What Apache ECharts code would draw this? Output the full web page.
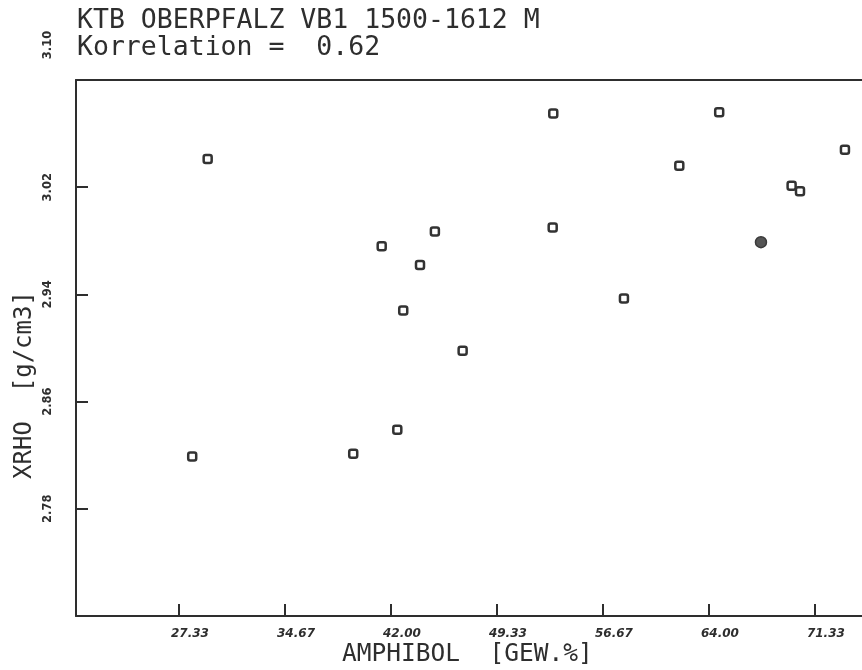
<!DOCTYPE html>
<html>
<head>
<meta charset="utf-8">
<title>KTB Oberpfalz VB1 – XRHO vs. Amphibol</title>
<script src="https://cdn.jsdelivr.net/npm/echarts@6/dist/echarts.min.js"></script>
<style>
  html, body { margin: 0; padding: 0; background: #ffffff; }
  #chart { width: 862px; height: 670px; }
</style>
</head>
<body>
<div id="chart"></div>
<script>
// Amphibol content (GEW.%) and bulk density XRHO (g/cm3) per sample
const amphibol = [29.32, 45.04, 41.36, 44.01, 42.85, 46.96, 42.44, 39.39, 28.25,
                  53.23, 64.71, 73.41, 61.95, 69.72, 70.30, 53.19, 58.12];
const xrho     = [3.041, 2.987, 2.976, 2.962, 2.928, 2.898, 2.839, 2.821, 2.819,
                  3.075, 3.076, 3.048, 3.036, 3.021, 3.017, 2.990, 2.937];

// highlighted (filled) sample
const amphibolFilled = [67.60];
const xrhoFilled     = [2.979];

// axis ticks
const xTicks = [27.33, 34.67, 42.00, 49.33, 56.67, 64.00, 71.33];
const yTicks = [2.78, 2.86, 2.94, 3.02, 3.10];

const titleLine1 = 'KTB OBERPFALZ VB1 1500-1612 M';
const titleLine2 = 'Korrelation =  0.62';
const xName = 'AMPHIBOL  [GEW.%]';
const yName = 'XRHO  [g/cm3]';

const ink = '#2e2e2e';
const mono = '"DejaVu Sans Mono", "Liberation Mono", monospace';
const tickFont = '"DejaVu Sans", sans-serif';

const chart = echarts.init(document.getElementById('chart'), null, { renderer: 'canvas' });

// plot frame runs off the right edge of the page: only left, bottom and top lines show
const X_MIN = 20.21, X_MAX = 74.59;

chart.setOption({
  backgroundColor: '#ffffff',
  animation: false,
  title: {
    text: titleLine1 + '\n' + titleLine2,
    left: 72,
    top: 3,
    textStyle: { fontFamily: mono, fontSize: 26.5, fontWeight: 'normal', color: ink, lineHeight: 27 }
  },
  grid: {
    left: 76, top: 80, right: 0, height: 536,
    show: false
  },
  xAxis: [
    {
      type: 'value',
      min: X_MIN, max: X_MAX,
      axisLine: { show: true, lineStyle: { color: ink, width: 2 } },
      axisTick: { show: true, inside: true, length: 12, customValues: xTicks, lineStyle: { color: ink, width: 2 } },
      axisLabel: {
        customValues: xTicks,
        formatter: v => v.toFixed(2),
        margin: 12,
        padding: [0, 0, 0, 22],
        fontFamily: tickFont,
        fontSize: 12, fontWeight: 'bold', fontStyle: 'italic', color: ink
      },
      splitLine: { show: false }
    },
    {
      // top edge of the frame
      type: 'value', position: 'top',
      min: X_MIN, max: X_MAX,
      axisLine: { show: true, lineStyle: { color: ink, width: 2 } },
      axisTick: { show: false },
      axisLabel: { show: false },
      splitLine: { show: false }
    }
  ],
  yAxis: {
    type: 'value',
    min: 2.70, max: 3.10,
    axisLine: { show: true, lineStyle: { color: ink, width: 2 } },
    axisTick: { show: true, inside: true, length: 12, customValues: yTicks, lineStyle: { color: ink, width: 2 } },
    axisLabel: {
      customValues: yTicks,
      rotate: 90,
      margin: 22,
      formatter: v => v.toFixed(2) === '3.10' ? '{top|3.10}' : v.toFixed(2),
      rich: { top: { padding: [0, 0, 0, 70], fontFamily: tickFont, fontSize: 11.5, fontWeight: 'bold', color: ink } },
      fontFamily: tickFont,
      fontSize: 11.5, fontWeight: 'bold', color: ink
    },
    splitLine: { show: false }
  },
  graphic: [
    {
      type: 'text', left: 342, top: 642,
      style: { text: xName, fontFamily: mono, fontSize: 24.5, fill: ink }
    },
    {
      type: 'text', x: 25, y: 385, rotation: Math.PI / 2,
      style: { text: yName, fontFamily: mono, fontSize: 24, fill: ink, align: 'center', verticalAlign: 'middle' }
    }
  ],
  series: [
    {
      type: 'scatter',
      xAxisIndex: 0,
      data: amphibol.map((a, i) => [a, xrho[i]]),
      symbol: 'roundRect',
      symbolSize: 8,
      itemStyle: { color: '#ffffff', borderColor: '#333333', borderWidth: 2.5, opacity: 1 }
    },
    {
      type: 'scatter',
      xAxisIndex: 0,
      data: amphibolFilled.map((a, i) => [a, xrhoFilled[i]]),
      symbol: 'circle',
      symbolSize: 11,
      itemStyle: { color: '#555555', borderColor: '#3a3a3a', borderWidth: 1.5, opacity: 1 }
    }
  ]
});
</script>
</body>
</html>
